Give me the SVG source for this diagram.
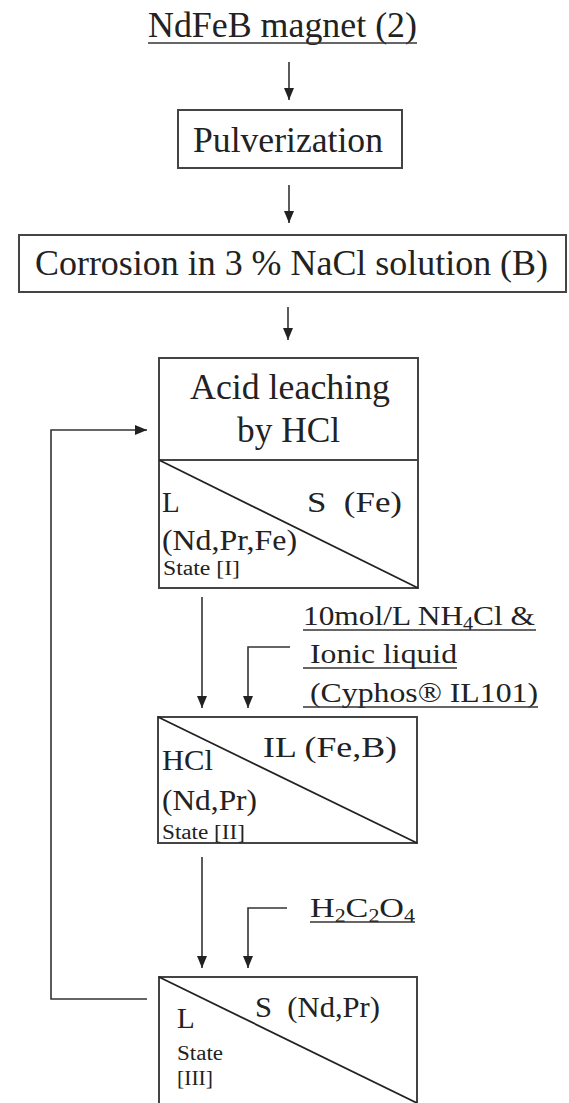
<svg xmlns="http://www.w3.org/2000/svg" width="569" height="1103" viewBox="0 0 569 1103">
<defs>
<style>
text{font-family:"Liberation Serif","Times New Roman",serif;fill:#222}
.big{font-size:35px}
.mid{font-size:29px}
.lab{font-size:28px}
.sm{font-size:20px}
.box{fill:none;stroke:#444;stroke-width:2}
.diag{stroke:#222;stroke-width:1.8}
.ul{stroke:#333;stroke-width:1.6}
.conn{fill:none;stroke:#333;stroke-width:1.6}
</style>
<marker id="ah" markerUnits="userSpaceOnUse" markerWidth="12" markerHeight="10" refX="12" refY="5" orient="auto">
<path d="M0,0 L12,5 L0,10 z" fill="#222"/>
</marker>
</defs>
<rect width="569" height="1103" fill="#fff"/>

<g id="title">
<text class="big" x="148" y="37" textLength="269" lengthAdjust="spacingAndGlyphs">NdFeB magnet (2)</text>
<line class="ul" x1="148" y1="43" x2="417" y2="43"/>
</g>

<g id="pulverization">
<rect class="box" x="178" y="110" width="224" height="58"/>
<text class="big" x="193" y="152" textLength="190" lengthAdjust="spacingAndGlyphs">Pulverization</text>
</g>

<g id="corrosion">
<rect class="box" x="19" y="235" width="547" height="57"/>
<text class="big" x="35" y="275" textLength="513" lengthAdjust="spacingAndGlyphs">Corrosion in 3 % NaCl solution (B)</text>
</g>

<g id="acid-leaching">
<rect class="box" x="159" y="358" width="259" height="230"/>
<line class="box" x1="159" y1="460" x2="418" y2="460"/>
<line class="diag" x1="159" y1="460" x2="418" y2="588"/>
<text class="big" x="190" y="399" textLength="200" lengthAdjust="spacingAndGlyphs">Acid leaching</text>
<text class="big" x="237" y="442" textLength="103" lengthAdjust="spacingAndGlyphs">by HCl</text>
<text class="mid" x="162" y="512">L</text>
<text class="mid" x="307" y="512" textLength="95" lengthAdjust="spacingAndGlyphs">S&#160; (Fe)</text>
<text class="mid" x="162" y="550" textLength="135" lengthAdjust="spacingAndGlyphs">(Nd,Pr,Fe)</text>
<text class="sm" x="163" y="575" textLength="77" lengthAdjust="spacingAndGlyphs">State [I]</text>
</g>

<g id="reagent-1">
<text class="lab" x="303" y="625" textLength="232" lengthAdjust="spacingAndGlyphs">10mol/L NH<tspan font-size="18" dy="5">4</tspan><tspan dy="-5">Cl &amp;</tspan></text>
<line class="ul" x1="303" y1="630" x2="536" y2="630"/>
<text class="lab" x="310" y="663" textLength="147" lengthAdjust="spacingAndGlyphs">Ionic liquid</text>
<line class="ul" x1="303" y1="668" x2="457" y2="668"/>
<text class="lab" x="310" y="702" textLength="228" lengthAdjust="spacingAndGlyphs">(Cyphos® IL101)</text>
<line class="ul" x1="303" y1="707" x2="538" y2="707"/>
</g>

<g id="state-2">
<rect class="box" x="158" y="717" width="259" height="126"/>
<line class="diag" x1="158" y1="717" x2="417" y2="843"/>
<text class="mid" x="263" y="757" textLength="134" lengthAdjust="spacingAndGlyphs">IL (Fe,B)</text>
<text class="mid" x="162" y="770" textLength="51" lengthAdjust="spacingAndGlyphs">HCl</text>
<text class="mid" x="162" y="810" textLength="95" lengthAdjust="spacingAndGlyphs">(Nd,Pr)</text>
<text class="sm" x="162" y="839" textLength="83" lengthAdjust="spacingAndGlyphs">State [II]</text>
</g>

<g id="reagent-2">
<text class="lab" x="310" y="917" textLength="105" lengthAdjust="spacingAndGlyphs">H<tspan font-size="18" dy="5">2</tspan><tspan dy="-5">C</tspan><tspan font-size="18" dy="5">2</tspan><tspan dy="-5">O</tspan><tspan font-size="18" dy="5">4</tspan></text>
<line class="ul" x1="310" y1="922" x2="415" y2="922"/>
</g>

<g id="state-3">
<rect class="box" x="159" y="977" width="258" height="128"/>
<line class="diag" x1="159" y1="977" x2="417" y2="1103"/>
<text class="mid" x="255" y="1017" textLength="125" lengthAdjust="spacingAndGlyphs">S&#160; (Nd,Pr)</text>
<text class="mid" x="177" y="1028">L</text>
<text class="sm" x="177" y="1060" textLength="46" lengthAdjust="spacingAndGlyphs">State</text>
<text class="sm" x="177" y="1085" textLength="36" lengthAdjust="spacingAndGlyphs">[III]</text>
</g>

<g id="connectors">
<path class="conn" d="M289,62 V100" marker-end="url(#ah)"/>
<path class="conn" d="M289,185 V223" marker-end="url(#ah)"/>
<path class="conn" d="M288,307 V340" marker-end="url(#ah)"/>
<path class="conn" d="M202,597 V708" marker-end="url(#ah)"/>
<path class="conn" d="M290,647 H248 V708" marker-end="url(#ah)"/>
<path class="conn" d="M202,857 V968" marker-end="url(#ah)"/>
<path class="conn" d="M287,908 H248 V968" marker-end="url(#ah)"/>
<path class="conn" d="M147,999 H51 V430 H147" marker-end="url(#ah)"/>
</g>
</svg>
